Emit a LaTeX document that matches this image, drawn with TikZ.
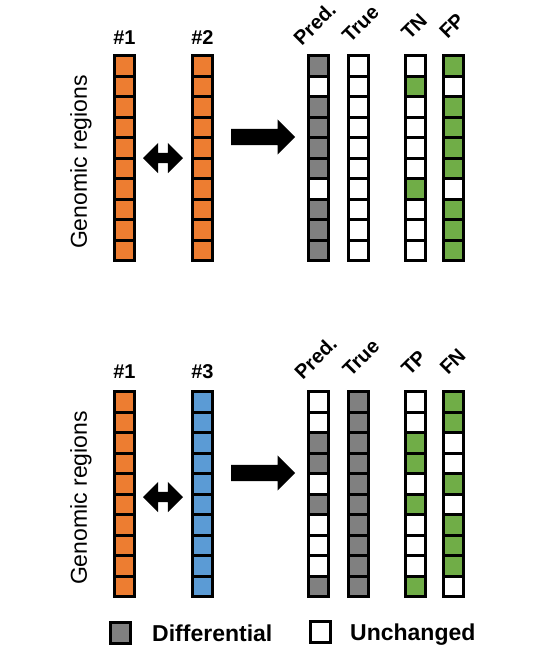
\documentclass[tikz,border=0pt]{standalone}
\usepackage{fontspec}
\setmainfont{Liberation Sans}
\usetikzlibrary{shapes.arrows, positioning}

\definecolor{orng}{RGB}{237,125,49}
\definecolor{blu}{RGB}{91,155,213}
\definecolor{grn}{RGB}{112,173,71}
\definecolor{dif}{RGB}{128,128,128}
\colorlet{unc}{white}

\begin{document}
\begin{tikzpicture}[
		x=1pt, y=-1pt,
		cell/.style={draw=black, line width=3pt, minimum width=20pt, minimum height=20.5pt, inner sep=0pt, outer sep=0pt},
		head/.style={font=\fontsize{20}{24}\selectfont\bfseries, inner sep=0pt},
		tilted/.style={head, rotate=45, anchor=south west},
		bigarrow/.style={single arrow, fill=black, inner sep=8pt, minimum height=64pt, minimum width=35pt, single arrow head extend=9.5pt, anchor=tail},
		swaparrow/.style={double arrow, fill=black, inner sep=5pt, minimum height=40pt, minimum width=30pt, double arrow head extend=10pt},
		ylabel/.style={rotate=90, font=\fontsize{23}{27}\selectfont, inner sep=0pt},
		legend/.style={font=\fontsize{23}{27}\selectfont\bfseries, anchor=base west, inner sep=0pt}
		]
		
		\useasboundingbox (0,0) rectangle (539,672);
		
		% Draw the columns of genomic regions (both panels)
		\foreach \nm/\x/\top/\fills in {
			a1/124.5/54/{orng,orng,orng,orng,orng,orng,orng,orng,orng,orng},
			a2/202.5/54/{orng,orng,orng,orng,orng,orng,orng,orng,orng,orng},
			pa/318.5/54/{dif,unc,dif,dif,dif,dif,unc,dif,dif,dif},
			ta/358.5/54/{unc,unc,unc,unc,unc,unc,unc,unc,unc,unc},
			tn/415/54/{unc,grn,unc,unc,unc,unc,grn,unc,unc,unc},
			fp/453.5/54/{grn,unc,grn,grn,grn,grn,unc,grn,grn,grn},
			b1/124.5/390/{orng,orng,orng,orng,orng,orng,orng,orng,orng,orng},
			b3/202.5/390/{blu,blu,blu,blu,blu,blu,blu,blu,blu,blu},
			pb/318.5/390/{unc,unc,dif,dif,unc,dif,unc,unc,unc,dif},
			tb/358.5/390/{dif,dif,dif,dif,dif,dif,dif,dif,dif,dif},
			tp/415/390/{unc,unc,grn,grn,unc,grn,unc,unc,unc,grn},
			fn/453.5/390/{grn,grn,unc,unc,grn,unc,grn,grn,grn,unc}} {
			\foreach \c [count=\i] in \fills {
				\node[cell, fill=\c] (\nm-\i) at (\x, \top+1.5+10.25+20.5*\i-20.5) {};
			}
		}
		
		% Top panel: #1 vs #2
		\node[head, anchor=base] (hA1) at (124.5,44) {\#1};
		\node[head, anchor=base] (hA2) at (202.5,44) {\#2};
		\node[ylabel] (gA) at (81,162) {Genomic regions};
		\node[swaparrow] (swapA) at (163,158) {};
		\node[bigarrow] (arrA) at (231,137) {};
		\node[tilted] (lPa) at (302,47) {Pred.};
		\node[tilted] (lTa) at (350.5,44) {True};
		\node[tilted] (lTN) at (409.5,41) {TN};
		\node[tilted] (lFP) at (447.5,40) {FP};
		
		% Bottom panel: #1 vs #3
		\node[head, anchor=base] (hB1) at (124.5,378) {\#1};
		\node[head, anchor=base] (hB3) at (202.5,378) {\#3};
		\node[ylabel] (gB) at (81,498) {Genomic regions};
		\node[swaparrow] (swapB) at (163,497) {};
		\node[bigarrow] (arrB) at (231,473) {};
		\node[tilted] (lPb) at (303,381) {Pred.};
		\node[tilted] (lTb) at (351,378) {True};
		\node[tilted] (lTP) at (409.5,377) {TP};
		\node[tilted] (lFN) at (448,376) {FN};
		
		% Legend
		\node[cell, fill=dif] (keyD) at (120,633) {};
		\node[legend] (keyDt) at (152,641) {Differential};
		\node[cell, fill=unc] (keyU) at (320,632) {};
		\node[legend] (keyUt) at (350,640) {Unchanged};
		
	\end{tikzpicture}
\end{document}
